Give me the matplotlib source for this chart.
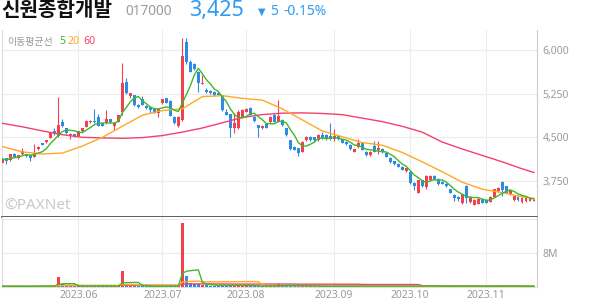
import matplotlib
matplotlib.use('Agg')
import matplotlib.pyplot as plt
import numpy as np
import pandas as pd

plt.rcParams['font.family'] = ['Noto Sans', 'Noto Sans CJK KR', 'DejaVu Sans']

# trading calendar (KRX holidays removed)
holidays = ['2023-05-05', '2023-05-29', '2023-06-06', '2023-08-15',
            '2023-09-28', '2023-09-29', '2023-10-02', '2023-10-03', '2023-10-09']
dates = pd.bdate_range('2023-05-03', '2023-11-17')
dates = dates[~dates.isin(pd.to_datetime(holidays))]

open_ = [4060, 4140, 4110, 4215, 4140, 4210, 4210, 4195, 4170, 4300,
         4395, 4415, 4485, 4605, 4525, 4770, 4655, 4535, 4550, 4530,
         4610, 4685, 4757, 4785, 4855, 4740, 4740, 4810, 4690, 4770,
         4940, 5455, 5210, 5225, 5055, 5150, 5040, 5015, 4980, 4912,
         5085, 5170, 5130, 4855, 4695, 4800, 6140, 5800, 5760, 5625,
         5415, 5315, 5300, 5275, 5270, 5225, 4930, 4895, 4655, 4655,
         4855, 4940, 5010, 4855, 4710, 4660, 4735, 4760, 4885, 4770,
         4800, 4655, 4455, 4340, 4310, 4255, 4455, 4510, 4500, 4455,
         4540, 4540, 4530, 4470, 4525, 4465, 4420, 4370, 4250, 4330,
         4410, 4255, 4195, 4350, 4285, 4305, 4230, 4145, 4090, 4050,
         3990, 3920, 3910, 3715, 3550, 3765, 3640, 3770, 3835, 3790,
         3735, 3700, 3610, 3510, 3475, 3370, 3670, 3390, 3340, 3360,
         3440, 3420, 3395, 3480, 3575, 3730, 3660, 3525, 3420, 3475,
         3390, 3405, 3410, 3410]
high = [4150, 4150, 4220, 4230, 4200, 4310, 4220, 4200, 4385, 4350,
        4400, 4460, 4595, 4655, 5200, 4810, 4665, 4575, 4560, 4615,
        4660, 4795, 4800, 4985, 4900, 4750, 4970, 4820, 4760, 4890,
        5770, 5515, 5265, 5235, 5065, 5210, 5050, 5020, 4990, 4990,
        5160, 5180, 5140, 4860, 4860, 6200, 6200, 5830, 5770, 5640,
        5570, 5340, 5320, 5290, 5290, 5235, 4990, 4905, 4915, 4970,
        4980, 5000, 5020, 4865, 4720, 4710, 4745, 4865, 4895, 5140,
        4810, 4665, 4460, 4350, 4320, 4435, 4520, 4520, 4510, 4550,
        4590, 4550, 4740, 4635, 4535, 4475, 4430, 4380, 4305, 4470,
        4420, 4265, 4265, 4440, 4440, 4315, 4240, 4155, 4100, 4060,
        4000, 3980, 3920, 3725, 3775, 3775, 3850, 3855, 3845, 3800,
        3745, 3710, 3620, 3520, 3485, 3530, 3680, 3490, 3435, 3450,
        3450, 3430, 3485, 3620, 3640, 3745, 3670, 3610, 3500, 3485,
        3470, 3460, 3455, 3440]
low = [4040, 4040, 4100, 4160, 4130, 4200, 4170, 4095, 4160, 4290,
       4360, 4410, 4480, 4545, 4510, 4680, 4560, 4465, 4505, 4520,
       4600, 4675, 4750, 4750, 4690, 4690, 4735, 4750, 4620, 4760,
       4885, 5240, 5170, 5045, 5005, 5050, 4990, 4915, 4915, 4845,
       5075, 5085, 4860, 4730, 4675, 4780, 5760, 5620, 5660, 5285,
       5410, 5260, 5250, 5215, 5220, 4960, 4875, 4510, 4570, 4650,
       4840, 4935, 4875, 4770, 4510, 4650, 4655, 4750, 4760, 4760,
       4700, 4530, 4290, 4275, 4175, 4245, 4445, 4445, 4445, 4445,
       4470, 4460, 4460, 4430, 4460, 4400, 4375, 4285, 4240, 4320,
       4275, 4185, 4185, 4245, 4210, 4235, 4155, 4060, 4030, 3985,
       3930, 3910, 3700, 3600, 3540, 3650, 3620, 3760, 3770, 3680,
       3690, 3650, 3535, 3400, 3400, 3360, 3380, 3380, 3330, 3350,
       3370, 3370, 3385, 3470, 3565, 3500, 3535, 3515, 3410, 3410,
       3380, 3395, 3400, 3400]
close = [4130, 4085, 4210, 4170, 4195, 4270, 4180, 4150, 4225, 4340,
         4370, 4455, 4585, 4555, 4720, 4690, 4570, 4565, 4515, 4605,
         4655, 4785, 4785, 4760, 4700, 4700, 4810, 4760, 4745, 4880,
         5430, 5255, 5255, 5055, 5015, 5060, 5000, 4970, 4925, 4980,
         5150, 5095, 4870, 4740, 4855, 5900, 5800, 5630, 5670, 5430,
         5440, 5285, 5270, 5225, 5230, 4970, 4885, 4655, 4740, 4940,
         4970, 4985, 4885, 4780, 4665, 4700, 4665, 4855, 4770, 4870,
         4710, 4540, 4300, 4285, 4225, 4425, 4510, 4455, 4455, 4540,
         4480, 4470, 4470, 4525, 4470, 4410, 4385, 4295, 4295, 4400,
         4285, 4195, 4255, 4255, 4320, 4245, 4165, 4070, 4040, 3995,
         3940, 3970, 3710, 3660, 3765, 3660, 3830, 3840, 3780, 3690,
         3700, 3660, 3545, 3460, 3440, 3520, 3460, 3480, 3425, 3440,
         3380, 3380, 3475, 3610, 3630, 3590, 3545, 3600, 3490, 3420,
         3460, 3450, 3445, 3425]
# volume, thousand shares
volume = [180, 150, 220, 160, 140, 200, 130, 150, 260, 230,
          170, 190, 300, 280, 2400, 600, 350, 250, 200, 180,
          220, 260, 300, 350, 280, 200, 250, 180, 200, 260,
          3800, 650, 350, 300, 200, 250, 180, 160, 170, 150,
          250, 230, 300, 250, 220, 15000, 2650, 1050, 700, 800,
          500, 400, 350, 300, 280, 450, 350, 400, 380, 420,
          300, 250, 300, 260, 280, 200, 220, 260, 250, 600,
          300, 350, 400, 280, 300, 330, 250, 200, 180, 220,
          200, 190, 170, 250, 300, 200, 180, 160, 220, 180,
          250, 180, 160, 200, 210, 170, 190, 220, 200, 180,
          190, 150, 350, 250, 300, 220, 260, 200, 180, 210,
          160, 150, 230, 250, 200, 260, 280, 200, 170, 160,
          150, 140, 180, 260, 220, 350, 240, 180, 200, 160,
          150, 140, 130, 120]

# 20/60-day moving averages every 5 sessions (+ last)
ma20_read = [4340, 4250, 4213, 4230, 4350, 4500, 4690, 4880, 4960, 4990,
             5200, 5215, 5170, 5140, 4990, 4800, 4610, 4510, 4410, 4365,
             4240, 4080, 3910, 3730, 3610, 3550, 3480, 3450]
ma60_read = [4740, 4680, 4610, 4545, 4500, 4490, 4483, 4495, 4530, 4590,
             4660, 4750, 4840, 4890, 4915, 4920, 4910, 4890, 4830, 4770,
             4690, 4590, 4420, 4300, 4190, 4080, 3960, 3895]

price_ticks = [3750, 4500, 5250, 6000]

RED = '#f2414c'
BLUE = '#2d8be6'
GREEN = '#3cb92a'
ORANGE = '#ffa826'
PINK = '#f2426c'
GRID = '#ececec'
GRAY = '#9a9a9a'

n = len(dates)
x = np.arange(n)
o = np.array(open_, float)
c = np.array(close, float)
hi = np.array(high, float)
lo = np.array(low, float)
vol = np.array(volume, float)
colors = np.where(c >= o, RED, BLUE)
ma5 = pd.Series(c).rolling(5, min_periods=1).mean()
sample_x = list(range(0, n, 5)) + [n - 1]
month_pos = [i for i in range(1, n) if dates[i].month != dates[i - 1].month]
month_lbl = [dates[i].strftime('%Y.%m') for i in month_pos]

W, H = 594, 304
fig = plt.figure(figsize=(W / 100, H / 100), dpi=100)
fig.patch.set_facecolor('white')


def fx(px):
    return px / W


def fy(py):
    return 1 - py / H


ax = fig.add_axes([fx(2), fy(217), fx(537) - fx(2), fy(30) - fy(217)])
axv = fig.add_axes([fx(2), fy(287), fx(537) - fx(2), fy(217) - fy(287)], sharex=ax)

# price panel
ax.vlines(x, lo, hi, colors=colors, lw=0.8, zorder=2)
body = np.maximum(np.abs(c - o), 14)
ax.bar(x, body, bottom=np.minimum(o, c), width=0.74, color=colors, lw=0, zorder=3)
ax.plot(sample_x, ma60_read, color=PINK, lw=1.0, zorder=4)
ax.plot(sample_x, ma20_read, color=ORANGE, lw=1.0, zorder=4)
ax.plot(x, ma5, color=GREEN, lw=1.0, zorder=5)

ax.set_xlim(-0.125, 133.75)
ax.set_ylim(3131, 6344)
ax.set_yticks(price_ticks)
ax.set_yticklabels([f'{v:,}' for v in price_ticks])
ax.yaxis.tick_right()
ax.tick_params(axis='y', length=0, pad=4, labelsize=7.5, labelcolor=GRAY)
ax.tick_params(axis='x', length=0, labelbottom=False)
ax.set_xticks(month_pos)
ax.grid(True, color=GRID, lw=0.8, zorder=0)
ax.set_axisbelow(True)
ax.spines['top'].set_visible(False)
ax.spines['left'].set_color('#dddddd')
ax.spines['right'].set_color('#cccccc')
ax.spines['bottom'].set_color('#333333')
ax.spines['bottom'].set_linewidth(1.1)

# volume panel
axv.bar(x, vol, width=0.74, color=colors, lw=0, zorder=3)
axv.plot(x, pd.Series(vol).rolling(60, min_periods=1).mean(), color=PINK, lw=1.0, zorder=4)
axv.plot(x, pd.Series(vol).rolling(20, min_periods=1).mean(), color=ORANGE, lw=1.0, zorder=4)
axv.plot(x, pd.Series(vol).rolling(5, min_periods=1).mean(), color=GREEN, lw=1.0, zorder=5)
axv.set_ylim(0, 16450)
axv.set_yticks([8000, 16000])
axv.set_yticklabels(['8M', ''])
axv.yaxis.tick_right()
axv.tick_params(axis='y', length=0, pad=4, labelsize=7.5, labelcolor=GRAY)
axv.set_xticks(month_pos)
axv.set_xticklabels(month_lbl)
axv.tick_params(axis='x', length=0, pad=2, labelsize=7.5, labelcolor=GRAY)
axv.grid(True, color=GRID, lw=0.8, zorder=0)
axv.set_axisbelow(True)
axv.spines['top'].set_visible(False)
axv.spines['left'].set_color('#dddddd')
axv.spines['right'].set_color('#cccccc')
axv.spines['bottom'].set_color('#dddddd')

# header
fig.text(fx(1), fy(10), '신원종합개발', fontsize=14.5, fontweight='bold', color='#111111',
         family=['Noto Sans CJK KR'], ha='left', va='center')
fig.text(fx(125), fy(11.5), '017000', fontsize=9.8, color=GRAY, ha='left', va='center')
fig.text(fx(189), fy(10.5), '3,425', fontsize=15.5, color='#2f9bf0', ha='left', va='center')
fig.text(fx(258), fy(11.5), '▼', fontsize=7, color='#2f9bf0', family=['DejaVu Sans'],
         ha='left', va='center')
fig.text(fx(270), fy(11.5), '5', fontsize=10, color='#2f9bf0', ha='left', va='center')
fig.text(fx(284), fy(11.5), '-0.15%', fontsize=10, color='#2f9bf0', ha='left', va='center')

# moving average legend
fig.text(fx(7), fy(41.5), '이동평균선', fontsize=7.2, color=GRAY,
         family=['Noto Sans CJK KR'], ha='left', va='center')
fig.text(fx(59), fy(41.5), '5', fontsize=7.6, fontweight='bold', color=GREEN, ha='left', va='center')
fig.text(fx(68), fy(41.5), '20', fontsize=7.6, fontweight='bold', color=ORANGE, ha='left', va='center')
fig.text(fx(83), fy(41.5), '60', fontsize=7.6, fontweight='bold', color=PINK, ha='left', va='center')

# watermark
fig.text(fx(4), fy(206), '©PAXNet', fontsize=11, fontweight='bold', color='#c8c8c8',
         ha='left', va='center')

fig.savefig('out.png', dpi=100, facecolor='white')
